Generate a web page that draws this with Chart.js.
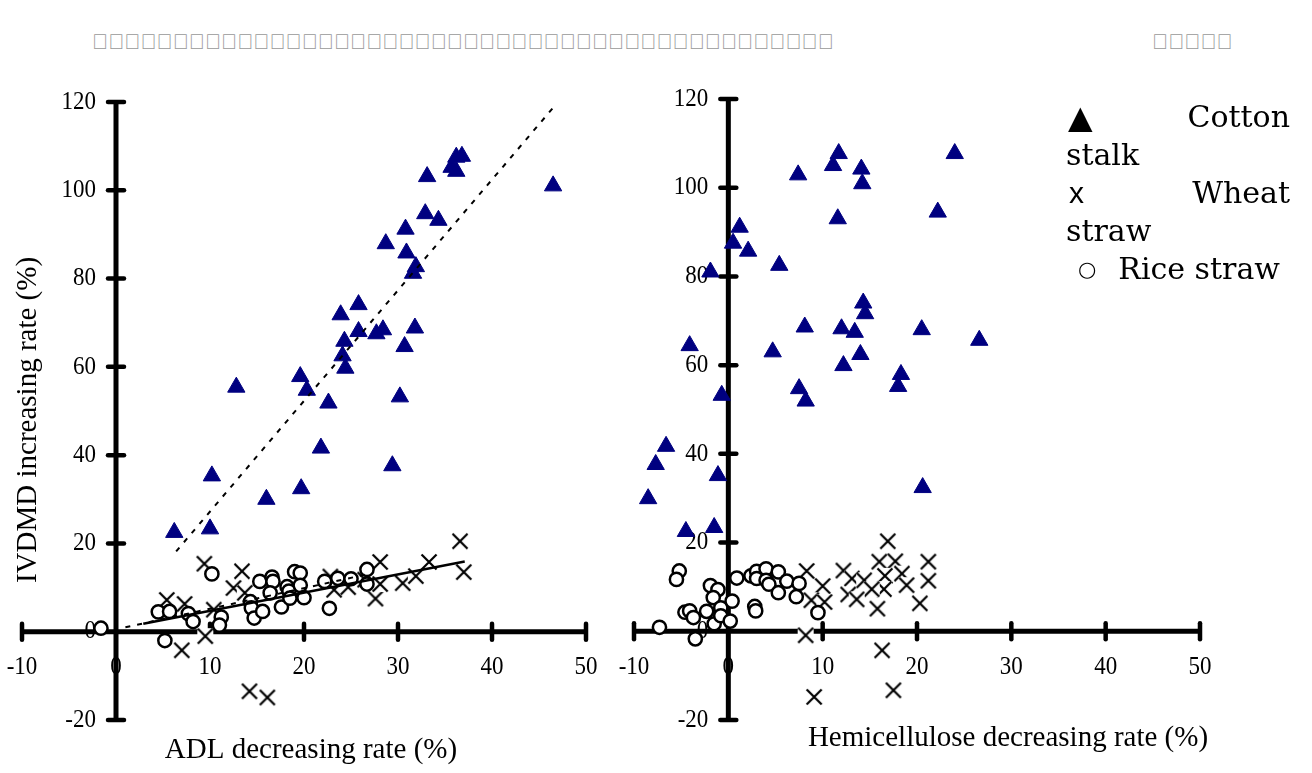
<!DOCTYPE html>
<html><head><meta charset="utf-8">
<script src="https://cdn.jsdelivr.net/npm/chart.js@4.4.1/dist/chart.umd.min.js"></script>
<style>
html,body{margin:0;padding:0;background:#fff;width:1312px;height:773px;overflow:hidden;}
body{position:relative;font-family:"Liberation Serif",serif;}
#c1{position:absolute;left:0;top:0;}
#c2{position:absolute;left:600px;top:0;}
.hdr{position:absolute;top:29px;color:#999;font-family:"Liberation Sans";font-size:21.5px;line-height:26px;white-space:nowrap;}
#leg{position:absolute;left:1066px;top:98px;width:224px;font-family:"DejaVu Serif";font-size:30px;line-height:38px;color:#000;}
#leg .row{display:flex;justify-content:space-between;height:38px;white-space:nowrap;}
#leg .sx{font-family:"Liberation Sans";margin-left:3px;}
#leg .sc{font-family:"DejaVu Sans";font-size:21px;margin-left:12px;}
#leg .tri{font-family:"DejaVu Sans";font-size:32px;margin-left:2px;}
</style></head>
<body>
<div class="hdr" id="h1" style="left:92px"></div>
<div class="hdr" id="h2" style="left:1152px"></div>
<canvas id="c1" width="620" height="773"></canvas>
<canvas id="c2" width="712" height="773"></canvas>
<div id="leg">
  <div class="row"><span class="tri">▲</span><span>Cotton</span></div>
  <div class="row"><span>stalk</span></div>
  <div class="row"><span class="sx">x</span><span>Wheat</span></div>
  <div class="row"><span>straw</span></div>
  <div class="row" style="justify-content:flex-start"><span class="sc">○</span><span style="margin-left:22px">Rice straw</span></div>
</div>
<script>
// ---------- data ----------
const xTicks = [-10, 0, 10, 20, 30, 40, 50];
const yTicks = [-20, 0, 20, 40, 60, 80, 100, 120];
const yTitle = 'IVDMD increasing rate (%)';
const xTitleLeft = 'ADL decreasing rate (%)';
const xTitleRight = 'Hemicellulose decreasing rate (%)';
const seriesNames = ['Cotton stalk', 'Wheat straw', 'Rice straw'];

// left panel: ADL decreasing rate vs IVDMD increasing rate
const adlCotton = [[36.8,107.7],[36.2,107.5],[35.7,105.2],[36.2,104.3],[33.1,103.1],[46.5,101.0],[32.9,94.7],[34.3,93.2],[30.8,91.2],[28.7,87.9],[30.9,85.8],[31.9,82.7],[31.6,81.2],[25.8,74.1],[23.9,71.8],[31.8,68.8],[28.4,68.4],[27.7,67.5],[25.8,68.0],[30.7,64.6],[24.3,65.8],[24.1,62.5],[24.4,59.7],[19.6,57.8],[20.3,54.7],[12.8,55.4],[30.2,53.2],[22.6,51.8],[21.8,41.6],[10.2,35.3],[29.4,37.6],[19.7,32.4],[16.0,30.0],[6.2,22.5],[10.0,23.3]];
const adlWheat = [[9.4,15.4],[13.4,13.7],[12.5,9.9],[13.7,8.8],[5.4,7.2],[7.3,6.3],[10.4,5.0],[9.5,-1.0],[7.0,-4.2],[14.2,-13.5],[16.1,-14.9],[22.8,12.5],[23.2,9.5],[24.7,10.1],[26.5,11.8],[27.6,7.5],[28.1,15.8],[28.1,10.8],[30.5,11.0],[31.9,12.6],[33.3,15.8],[36.6,20.5],[37.0,13.5]];
const adlRice = [[-1.6,0.8],[4.5,4.5],[5.7,4.6],[7.7,4.1],[8.2,2.3],[5.2,-2.0],[10.2,13.1],[11.2,3.3],[11.0,1.5],[14.3,6.8],[14.4,5.4],[14.7,3.1],[15.6,4.6],[15.3,11.4],[16.6,12.4],[16.7,11.4],[16.4,8.8],[17.6,5.6],[18.2,10.2],[18.4,9.2],[18.5,7.6],[19.0,13.6],[19.6,13.3],[19.6,10.5],[20.0,7.7],[22.2,11.4],[22.7,5.3],[23.6,12.1],[25.0,12.0],[26.7,14.1],[26.7,10.8]];
const adlCottonFit = [[6.4,18.2],[46.5,118.7]];
const adlWheatFit = [[2.9,1.8],[37.1,15.9]];
const adlRiceFit = [[1.0,1.0],[26.7,13.0]];

// right panel: hemicellulose decreasing rate vs IVDMD increasing rate
const hemiCotton = [[11.7,107.7],[24.0,107.7],[11.1,105.0],[14.1,104.2],[7.4,102.9],[14.2,100.9],[22.2,94.5],[11.6,93.0],[1.2,91.1],[0.5,87.5],[2.1,85.7],[5.4,82.5],[-1.9,81.0],[14.3,74.0],[14.5,71.6],[8.1,68.6],[20.5,68.0],[12.0,68.2],[13.4,67.4],[26.6,65.6],[-4.1,64.4],[4.7,63.0],[14.0,62.4],[12.2,59.9],[18.3,57.9],[18.0,55.2],[-0.7,53.2],[7.5,54.7],[8.2,51.9],[-6.6,41.7],[-7.7,37.6],[-1.1,35.1],[-8.5,29.9],[20.6,32.4],[-4.5,22.5],[-1.5,23.4]];
const hemiWheat = [[16.9,20.3],[16.0,15.7],[17.7,15.8],[21.2,15.7],[8.3,13.6],[12.2,13.7],[13.1,11.9],[10.0,10.2],[14.4,11.5],[16.6,12.5],[18.4,13.0],[21.2,11.4],[18.9,10.4],[16.5,9.5],[15.2,9.5],[12.7,8.3],[13.6,7.2],[8.8,7.0],[10.2,6.6],[20.3,6.3],[15.8,5.1],[8.2,-0.9],[16.3,-4.3],[17.5,-13.3],[9.1,-14.8]];
const hemiRice = [[-7.3,0.9],[-5.2,13.6],[-5.5,11.7],[-1.9,10.3],[-1.1,9.4],[-1.6,7.6],[-4.6,4.3],[-4.1,4.6],[-3.7,3.1],[-2.3,4.5],[-3.5,-1.7],[-1.5,1.7],[-0.8,5.3],[-0.8,3.5],[0.2,2.3],[0.4,6.8],[0.9,12.0],[2.8,5.6],[2.9,4.6],[2.4,12.5],[3.0,13.5],[3.0,11.9],[4.0,14.1],[4.0,11.5],[4.3,10.6],[5.3,13.4],[5.3,8.7],[6.2,11.3],[7.5,10.8],[7.2,7.8],[9.5,4.2]];

// header (characters without glyphs in the source picture)
const headerLeft = Array.from({length:46}, (_, i) => String.fromCharCode(0xE000 + i)).join('');
const headerRight = Array.from({length:5}, (_, i) => String.fromCharCode(0xE100 + i)).join('');
document.getElementById('h1').textContent = headerLeft;
document.getElementById('h2').textContent = headerRight;

// ---------- helpers ----------
const pts = arr => arr.map(([x, y]) => ({x, y}));

const crossImg = (() => {
  const c = document.createElement('canvas');
  c.width = 20; c.height = 20;
  const g = c.getContext('2d');
  g.fillStyle = '#fff'; g.fillRect(2, 2, 16, 16);
  g.strokeStyle = '#000'; g.lineWidth = 2.2;
  g.beginPath(); g.moveTo(2.5, 2.5); g.lineTo(17.5, 17.5); g.moveTo(17.5, 2.5); g.lineTo(2.5, 17.5); g.stroke();
  return c;
})();

function tallText(ctx, s, x, y) {
  ctx.save();
  ctx.translate(x, y);
  ctx.scale(1, 1.12);
  ctx.fillText(s, 0, 0);
  ctx.restore();
}

function crossAxes(xTitle, xTitlePos) {
  return {
    id: 'crossAxes',
    beforeDatasetsDraw(chart) {
      const {ctx, scales: {x, y}} = chart;
      const x0 = x.getPixelForValue(0), y0 = y.getPixelForValue(0);
      const line = (a, b, c, d) => { ctx.beginPath(); ctx.moveTo(a, b); ctx.lineTo(c, d); ctx.stroke(); };
      ctx.save();
      ctx.fillStyle = '#000';
      ctx.font = '23px "Liberation Serif"';
      ctx.textBaseline = 'middle';
      ctx.textAlign = 'center';
      xTicks.forEach(v => tallText(ctx, String(v), x.getPixelForValue(v), y0 + 36));
      ctx.textAlign = 'right';
      yTicks.forEach(v => tallText(ctx, String(v), x0 - 20, y.getPixelForValue(v)));
      // axis lines
      ctx.strokeStyle = '#000';
      ctx.lineCap = 'butt';
      ctx.lineWidth = 5;
      line(x.getPixelForValue(xTicks[0]), y0, x.getPixelForValue(xTicks[xTicks.length - 1]), y0);
      line(x0, y.getPixelForValue(yTicks[0]), x0, y.getPixelForValue(yTicks[yTicks.length - 1]));
      ctx.lineCap = 'round';
      ctx.lineWidth = 4.5;
      xTicks.forEach(v => { if (v !== 0) { const p = x.getPixelForValue(v); line(p, y0 - 8, p, y0 + 8); } });
      yTicks.forEach(v => { if (v !== 0) { const p = y.getPixelForValue(v); line(x0 - 8, p, x0 + 8, p); } });
      // titles
      ctx.font = '29px "Liberation Serif"';
      ctx.textAlign = 'center';
      ctx.fillText(xTitle, xTitlePos[0], xTitlePos[1]);
      if (xTitlePos[2]) {
        ctx.translate(28, 420);
        ctx.rotate(-Math.PI / 2);
        ctx.fillText(yTitle, 0, 0);
      }
      ctx.restore();
    }
  };
}

function makeChart(id, cotton, wheat, rice, fits, pad, xTitle, titlePos) {
  const datasets = [];
  fits.forEach(f => datasets.push({
    label: f.label, data: pts(f.data), showLine: true, borderColor: '#000', borderWidth: f.w,
    borderDash: f.dash, pointRadius: 0, pointHoverRadius: 0, order: 0, clip: false
  }));
  datasets.push({label: seriesNames[0], data: pts(cotton), pointStyle: 'triangle', pointRadius: 10, pointHoverRadius: 10,
    backgroundColor: '#000080', borderColor: '#000080', borderWidth: 1, order: 1, clip: false});
  datasets.push({label: seriesNames[2], data: pts(rice), pointStyle: 'circle', pointRadius: 6.6, pointHoverRadius: 6.6,
    backgroundColor: '#fff', borderColor: '#000', borderWidth: 2.5, order: 2, clip: false});
  datasets.push({label: seriesNames[1], data: pts(wheat), pointStyle: crossImg, pointRadius: 9, order: 3, clip: false});
  return new Chart(document.getElementById(id), {
    type: 'scatter',
    data: {datasets},
    options: {
      responsive: false, animation: false, devicePixelRatio: 1,
      layout: {padding: pad},
      plugins: {legend: {display: false}, tooltip: {enabled: false}},
      events: [],
      scales: {
        x: {type: 'linear', min: xTicks[0], max: xTicks[xTicks.length - 1], display: false},
        y: {type: 'linear', min: yTicks[0], max: yTicks[yTicks.length - 1], display: false}
      }
    },
    plugins: [crossAxes(xTitle, titlePos)]
  });
}

makeChart('c1', adlCotton, adlWheat, adlRice, [
  {label: 'Cotton stalk fit', data: adlCottonFit, dash: [5, 7], w: 2},
  {label: 'Wheat straw fit', data: adlWheatFit, dash: [], w: 2.5},
  {label: 'Rice straw fit', data: adlRiceFit, dash: [5, 7], w: 2}
], {left: 22, right: 34, top: 102, bottom: 53}, xTitleLeft, [311, 750, true]);

makeChart('c2', hemiCotton, hemiWheat, hemiRice, [],
  {left: 34, right: 112, top: 99, bottom: 53}, xTitleRight, [408, 738, false]);
</script>
</body></html>
